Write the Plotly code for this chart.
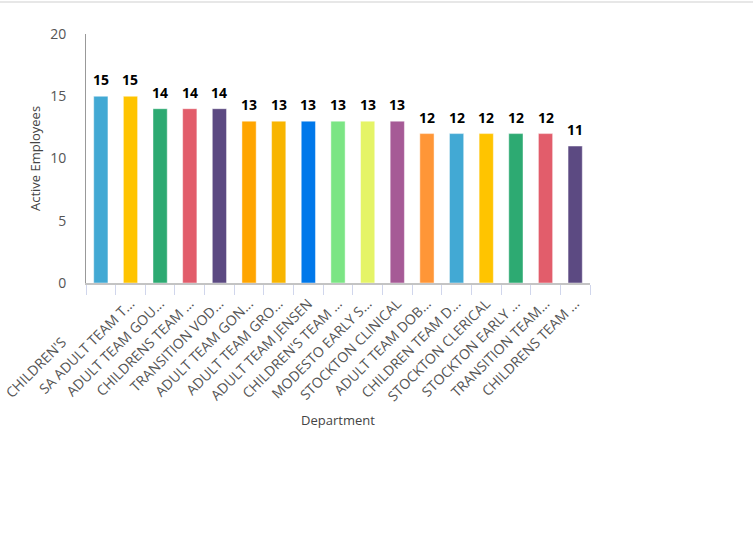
import plotly.graph_objects as go

departments = [
    "CHILDREN'S", "SA ADULT TEAM T...", "ADULT TEAM GOU...", "CHILDRENS TEAM ...",
    "TRANSITION VOD...", "ADULT TEAM GON...", "ADULT TEAM GRO...", "ADULT TEAM JENSEN",
    "CHILDREN'S TEAM ...", "MODESTO EARLY S...", "STOCKTON CLINICAL", "ADULT TEAM DOB...",
    "CHILDREN TEAM D...", "STOCKTON CLERICAL", "STOCKTON EARLY ...", "TRANSITION TEAM...",
    "CHILDRENS TEAM ...",
]
employees = [15, 15, 14, 14, 14, 13, 13, 13, 13, 13, 13, 12, 12, 12, 12, 12, 11]
colors = [
    "#42A9D4", "#FFC400", "#2DAA72", "#E25D6B", "#5C4A82", "#FFA500", "#F8B500",
    "#0078EA", "#7BE584", "#E5F467", "#A65A96", "#FF9637", "#42A9D4", "#FFC400",
    "#2DAA72", "#E25D6B", "#5C4A82",
]

# make duplicate labels unique for the category axis
seen = {}
cats = []
for d in departments:
    n = seen.get(d, 0)
    label = d + "\u200b" * n
    if d == "CHILDREN'S":
        label = d + "\u00a0" * 15  # original label carries trailing blanks
    cats.append(label)
    seen[d] = n + 1

font = "Open Sans, sans-serif"

fig = go.Figure(go.Bar(
    x=cats, y=employees,
    marker=dict(color=colors, line=dict(color="rgba(255,255,255,0.45)", width=1)),
    width=0.48,
    hoverinfo="x+y",
))

for c, v in zip(cats, employees):
    fig.add_annotation(x=c, y=v, text=f"<b>{v}</b>", showarrow=False,
                       yanchor="bottom", yshift=5,
                       font=dict(family=font, size=14, color="#000000"))

fig.update_layout(
    width=753, height=549,
    margin=dict(l=86, r=163, t=34, b=266),
    paper_bgcolor="white", plot_bgcolor="white",
    font=dict(family=font, color="#5b5b5b"),
    showlegend=False,
    xaxis=dict(
        type="category", automargin=False,
        title=dict(text="Department", font=dict(size=13, color="#444"), standoff=12),
        tickangle=-45,
        tickfont=dict(size=14, color="#555"),
        ticklabelstandoff=5,
        showline=True, linecolor="#c4c4c4", linewidth=2,
        ticks="outside", tickson="boundaries", ticklen=10, tickcolor="#d0d6ec", tickwidth=1,
        showgrid=False, range=[-0.5, len(cats) - 0.5],
    ),
    yaxis=dict(
        automargin=False,
        title=dict(text="Active Employees", font=dict(size=13, color="#444"), standoff=6),
        range=[0, 20], tickvals=[0, 5, 10, 15, 20],
        tickfont=dict(size=14, color="#555"),
        ticklabelstandoff=16,
        showline=True, linecolor="#999999", linewidth=1,
        showgrid=False, zeroline=False, ticks="", ticklen=0,
    ),
    shapes=[dict(type="line", xref="paper", yref="paper", x0=-0.2, x1=1.4,
                 y0=1 + 32 / 249, y1=1 + 32 / 249, line=dict(color="#cfcfcf", width=1))],
)

fig.write_html("out.html")
